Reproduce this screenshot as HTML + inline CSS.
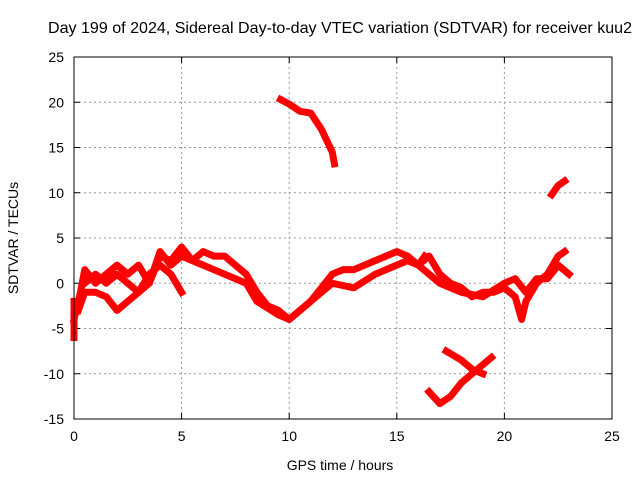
<!DOCTYPE html>
<html><head><meta charset="utf-8"><style>
body{margin:0;background:#fff}
svg{display:block;font-family:"Liberation Sans",sans-serif;font-size:14px}
</style></head><body>
<svg id="chart" width="640" height="480">
<text x="340" y="33" text-anchor="middle" font-size="16" textLength="584" lengthAdjust="spacingAndGlyphs">Day 199 of 2024, Sidereal Day-to-day VTEC variation (SDTVAR) for receiver kuu2</text>
<text x="340" y="470" text-anchor="middle">GPS time / hours</text>
<text transform="translate(18,238) rotate(-90)" text-anchor="middle">SDTVAR / TECUs</text>
<g id="grid"></g><g id="axes"></g><g id="marks"></g>
<rect x="74" y="57" width="538" height="362" fill="none" stroke="#000" stroke-width="1"/>
</svg>
<script>
const xTicks=[0,5,10,15,20,25];
const yTicks=[-15,-10,-5,0,5,10,15,20,25];
const trackA=[[0,-4],[0.3,-1],[0.5,1.5],[1,0],[1.5,1],[2,2],[2.5,1],[3,2],[3.5,0],[4,3],[4.5,2.5],[5,4],[5.5,2.5],[6,3.5],[6.5,3],[7,3],[7.5,2],[8,1],[8.5,-1],[9,-2.5],[9.5,-3],[10,-4],[10.5,-3],[11,-2],[11.5,-0.5],[12,1],[12.5,1.5],[13,1.5],[14,2.5],[15,3.5],[15.5,3],[16,2],[16.5,3],[17,1],[17.5,0],[18,-0.5],[18.5,-1.5],[19,-1],[19.5,-1],[20,-0.5],[20.5,-1.5],[20.8,-4],[21,-2],[21.5,0],[22,1],[22.5,3],[22.8,3.5]];
const trackB=[[0.2,-3],[0.5,-1],[1,-1],[1.5,-1.5],[2,-3],[2.5,-2],[3,-1],[3.5,1],[4,2],[4.5,1],[5,-1]];
const trackC=[[0.5,0],[1,1],[1.5,0],[2,1],[3,-1],[3.5,0],[4,3.5],[4.5,2],[5,3],[6,2],[6.5,1.5],[7,1],[8,0],[8.5,-2],[9.5,-3.5],[10,-4],[11,-2],[12,0],[13,-0.5],[14,1],[15,2],[15.5,2.5],[16,2],[16.3,3]];
const trackD=[[16,2],[16.5,1],[17,0],[18,-1],[19,-1.5],[20,0],[20.5,0.5],[21,-1],[21.5,0.5],[22,0.5],[22.5,2],[23,1]];
const trackE=[[9.6,20.3],[10,19.8],[10.5,19],[11,18.8],[11.5,17],[12,14.5],[12.1,13.2]];
const trackF=[[22.2,9.8],[22.5,10.8],[22.8,11.3]];
const trackG=[[16.5,-12],[17,-13.3],[17.5,-12.5],[18,-11],[18.5,-10],[19,-9],[19.4,-8.2]];
const trackH=[[17.3,-7.5],[18,-8.5],[18.5,-9.5],[19,-10]];
const trackI=[[0,-6],[0,-2]];
const tracks=[trackA,trackB,trackC,trackD,trackE,trackF,trackG,trackH,trackI];
const X0=74,X1=612,Y0=419,Y1=57;
const sx=h=>X0+(h-0)/(25-0)*(X1-X0);
const sy=v=>Y0-(v+15)/(40)*(Y0-Y1);
const NS="http://www.w3.org/2000/svg";
const grid=document.getElementById('grid'),axes=document.getElementById('axes'),marks=document.getElementById('marks');
function mk(t,a,p){const e=document.createElementNS(NS,t);for(const k in a)e.setAttribute(k,a[k]);p.appendChild(e);return e;}
xTicks.forEach(t=>{const x=sx(t);
 if(t>0&&t<25){const g=mk('line',{x1:x,x2:x,y1:Y1,y2:Y0,stroke:'#999','stroke-dasharray':'2,3'},grid);
 
 }
 const tk=mk('path',{d:`M${x},${Y0}v-6M${x},${Y1}v6`,stroke:'#000'},axes);
 
 
 const l=mk('text',{x:x,y:Y0+22,'text-anchor':'middle'},axes);l.textContent=t;
 
 });
yTicks.forEach(t=>{const y=sy(t);
 if(t>-15&&t<25){const g=mk('line',{x1:X0,x2:X1,y1:y,y2:y,stroke:'#999','stroke-dasharray':'2,3'},grid);
 
 }
 const tk=mk('path',{d:`M${X0},${y}h6M${X1},${y}h-6`,stroke:'#000'},axes);
 
 
 const l=mk('text',{x:X0-10,y:y+5,'text-anchor':'end'},axes);l.textContent=t;
 
 });
tracks.forEach((tr,i)=>{
 const p=mk('polyline',{points:tr.map(d=>sx(d[0])+','+sy(d[1])).join(' '),fill:'none',stroke:'#f00','stroke-width':7,'stroke-linejoin':'round','stroke-linecap':'square'},marks);
 
 
});
</script>
</body></html>
